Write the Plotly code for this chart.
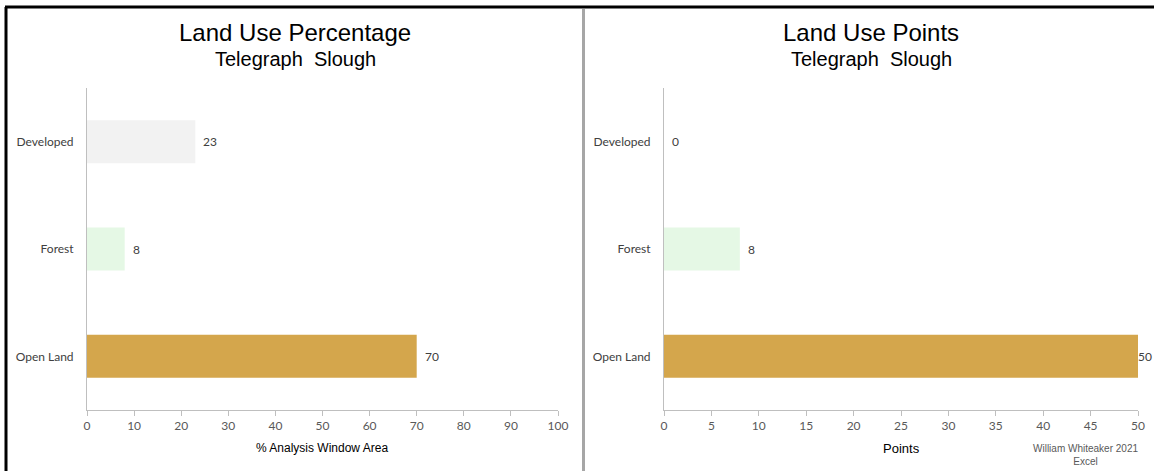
import plotly.graph_objects as go

# Land use data for Telegraph Slough
categories = ["Developed", "Forest", "Open Land"]
pct_values = [23, 8, 70]
point_values = [0, 8, 50]
bar_colors = ["#F2F2F2", "#E5F8E5", "#D4A64C"]
pct_ticks = list(range(0, 101, 10))
point_ticks = list(range(0, 51, 5))

W, H = 1154, 471


def px_x(v):
    return v / W


def px_y(v):
    return 1 - v / H


# Plot-area extents in pixels for the two panels
LEFT_PX = (87, 558)
RIGHT_PX = (664, 1138)

fig = go.Figure()

fig.add_trace(go.Bar(
    x=pct_values, y=categories, orientation="h",
    marker=dict(color=bar_colors, line=dict(width=0)),
    width=0.4, xaxis="x", yaxis="y", showlegend=False, hoverinfo="x+y",
))
fig.add_trace(go.Bar(
    x=point_values, y=categories, orientation="h",
    marker=dict(color=bar_colors, line=dict(width=0)),
    width=0.4, xaxis="x2", yaxis="y2", showlegend=False, hoverinfo="x+y",
))

cat_font = dict(family="Lato, Carlito, sans-serif", size=12, color="#404040")
tick_font = dict(family="Lato, Carlito, sans-serif", size=12, color="#595959")
axis_line = "#BFBFBF"
y_dom = [px_y(410), px_y(88)]

common_x = dict(
    showgrid=False, zeroline=False, showline=True, linecolor=axis_line, linewidth=1,
    ticks="outside", ticklen=5, tickcolor=axis_line, tickfont=tick_font,
    fixedrange=True, automargin=False,
)
common_y = dict(
    showgrid=False, zeroline=False, showline=True, linecolor=axis_line, linewidth=1,
    ticks="", tickfont=cat_font, ticklabelstandoff=10,
    categoryorder="array", categoryarray=categories, autorange="reversed",
    fixedrange=True, automargin=False,
)

pct_range = [0, 100]
point_range = [0, 50]

fig.update_layout(
    width=W, height=H,
    margin=dict(l=0, r=0, t=0, b=0, autoexpand=False),
    paper_bgcolor="white", plot_bgcolor="white",
    bargap=0.6,
    xaxis=dict(common_x, domain=[px_x(LEFT_PX[0]), px_x(LEFT_PX[1])], range=pct_range,
               tickvals=pct_ticks, anchor="y"),
    yaxis=dict(common_y, domain=y_dom, anchor="x"),
    xaxis2=dict(common_x, domain=[px_x(RIGHT_PX[0]), px_x(RIGHT_PX[1])], range=point_range,
                tickvals=point_ticks, anchor="y2"),
    yaxis2=dict(common_y, domain=y_dom, anchor="x2"),
)

annotations = []

# Value labels just past the end of each bar, pulled in if they would run off the page
LABEL_W = 17
for xa, ya, vals, span, rng in (("x", "y", pct_values, LEFT_PX, pct_range),
                                ("x2", "y2", point_values, RIGHT_PX, point_range)):
    for cat, v in zip(categories, vals):
        end_px = span[0] + (span[1] - span[0]) * (v - rng[0]) / (rng[1] - rng[0])
        shift = min(7, W - LABEL_W - end_px)
        annotations.append(dict(
            x=v, y=cat, xref=xa, yref=ya, text=str(v), showarrow=False,
            xanchor="left", xshift=shift, borderpad=0,
            font=dict(family="Lato, Carlito, sans-serif", size=12, color="#404040"),
        ))

title_font = dict(family="Liberation Sans, Arial, sans-serif", size=24, color="#000000")
sub_font = dict(family="Liberation Sans, Arial, sans-serif", size=20, color="#000000")

for cx, title in ((295, "Land Use Percentage"), (871, "Land Use Points")):
    annotations.append(dict(x=px_x(cx), y=px_y(33), xref="paper", yref="paper",
                            text=title, showarrow=False, font=title_font,
                            xanchor="center", yanchor="middle"))
    annotations.append(dict(x=px_x(cx), y=px_y(59), xref="paper", yref="paper",
                            text="Telegraph  Slough", showarrow=False, font=sub_font,
                            xanchor="center", yanchor="middle"))

# Axis titles
annotations.append(dict(x=px_x(322), y=px_y(448), xref="paper", yref="paper",
                        text="% Analysis Window Area", showarrow=False,
                        font=dict(family="Liberation Sans, Arial, sans-serif",
                                  size=12, color="#000000"),
                        xanchor="center", yanchor="middle"))
annotations.append(dict(x=px_x(901), y=px_y(448), xref="paper", yref="paper",
                        text="Points", showarrow=False,
                        font=dict(family="Liberation Sans, Arial, sans-serif",
                                  size=13, color="#000000"),
                        xanchor="center", yanchor="middle"))

# Credit line
annotations.append(dict(x=px_x(1085), y=px_y(455), xref="paper", yref="paper",
                        text="William Whiteaker 2021<br>Excel", showarrow=False,
                        font=dict(family="Liberation Sans, Arial, sans-serif",
                                  size=10, color="#595959"),
                        xanchor="center", yanchor="middle"))

fig.update_layout(annotations=annotations)

# Frame: black border on top and left, gray divider between the two panels
shapes = [
    dict(type="line", xref="paper", yref="paper", x0=px_x(5), x1=1, y0=px_y(7), y1=px_y(7),
         line=dict(color="#000000", width=3)),
    dict(type="line", xref="paper", yref="paper", x0=px_x(6), x1=px_x(6), y0=px_y(7), y1=0,
         line=dict(color="#000000", width=3)),
    dict(type="line", xref="paper", yref="paper", x0=px_x(583.5), x1=px_x(583.5),
         y0=px_y(9), y1=0, line=dict(color="#A6A6A6", width=3)),
]
fig.update_layout(shapes=shapes)

fig.write_html("out.html")
